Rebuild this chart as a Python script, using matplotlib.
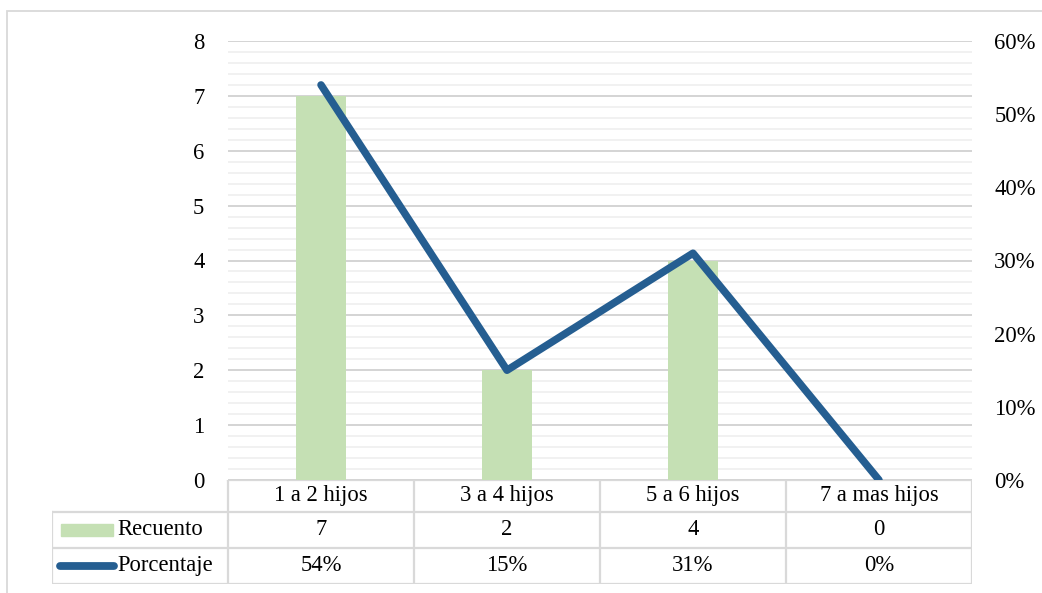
import matplotlib
matplotlib.use("Agg")
import matplotlib.pyplot as plt
from matplotlib.patches import Rectangle
from matplotlib.lines import Line2D
import numpy as np

# Data
categories = ["1 a 2 hijos", "3 a 4 hijos", "5 a 6 hijos", "7 a mas hijos"]
recuento = [7, 2, 4, 0]
porcentaje = [0.54, 0.15, 0.31, 0.00]
row_labels = ["Recuento", "Porcentaje"]
left_ticks = [0, 1, 2, 3, 4, 5, 6, 7, 8]
right_ticks = [0.0, 0.1, 0.2, 0.3, 0.4, 0.5, 0.6]

BAR_COLOR = "#C5E0B4"
LINE_COLOR = "#255E91"
GRID_MAJOR = "#D4D4D4"
GRID_MINOR = "#F0F0F0"
BORDER = "#D9D9D9"
FONT = "Liberation Serif"
FS = 16.3

W, H = 1042, 593
fig = plt.figure(figsize=(W / 100, H / 100), dpi=100)
plt.rcParams["font.family"] = [FONT, "DejaVu Sans"]


def fx(px):
    return px / W


def fy(py):
    return 1 - py / H


# Outer chart frame
fig.add_artist(Rectangle((fx(7), fy(600)), fx(1100) - fx(7), fy(11) - fy(600),
                         transform=fig.transFigure, fill=False,
                         edgecolor=BORDER, linewidth=1.3))

# Plot area
pl, pr, pt, pb = 228, 972, 41, 480
ax = fig.add_axes([fx(pl), fy(pb), fx(pr) - fx(pl), fy(pt) - fy(pb)])
x = np.arange(len(categories))
ax.bar(x, recuento, width=0.27, color=BAR_COLOR, zorder=2)
ax.set_xlim(-0.5, len(categories) - 0.5)
ax.set_ylim(0, 8)
ax.set_yticks(left_ticks)
ax.set_yticks(np.arange(0, 8.01, 0.2), minor=True)
ax.set_yticklabels([str(t) for t in left_ticks], fontsize=FS, fontfamily=FONT)
ax.tick_params(axis="y", which="both", length=0, pad=17)
ax.set_xticks([])
ax.grid(axis="y", which="major", color=GRID_MAJOR, linewidth=1.4, zorder=0)
ax.grid(axis="y", which="minor", color=GRID_MINOR, linewidth=1.3, zorder=0)
ax.set_axisbelow(True)
for s in ax.spines.values():
    s.set_visible(False)

ax2 = ax.twinx()
ax2.plot(x, porcentaje, color=LINE_COLOR, linewidth=5.4,
         solid_capstyle="round", solid_joinstyle="round", zorder=3)
ax2.set_ylim(0, 0.6)
ax2.set_yticks(right_ticks)
ax2.set_yticklabels([f"{int(round(t * 100))}%" for t in right_ticks],
                    fontsize=FS, fontfamily=FONT)
ax2.tick_params(axis="y", length=0, pad=16)
for s in ax2.spines.values():
    s.set_visible(False)

# Data table below the plot
tl, tr, tt, tb = 52, 972, 480, 584
tab = fig.add_axes([fx(tl), fy(tb), fx(tr) - fx(tl), fy(tt) - fy(tb)])
tab.set_xlim(tl, tr)
tab.set_ylim(tb, tt)
tab.axis("off")
col_w = (pr - pl) / len(categories)
row_edges = [480, 512, 548, 584]
lc = dict(color=BORDER, linewidth=1.6, solid_capstyle="projecting")

# horizontal rules
tab.add_line(Line2D([pl, pr], [row_edges[0]] * 2, **lc))
for ry in row_edges[1:]:
    tab.add_line(Line2D([tl, pr], [ry] * 2, **lc))
# vertical rules
tab.add_line(Line2D([tl, tl], [row_edges[1], row_edges[3]], **lc))
for i in range(len(categories) + 1):
    xv = pl + i * col_w
    tab.add_line(Line2D([xv, xv], [row_edges[0], row_edges[3]], **lc))

for i, cat in enumerate(categories):
    cx = pl + (i + 0.5) * col_w
    tab.text(cx, (row_edges[0] + row_edges[1]) / 2, cat, ha="center",
             va="center", fontsize=FS, fontfamily=FONT)
    tab.text(cx, (row_edges[1] + row_edges[2]) / 2, str(recuento[i]),
             ha="center", va="center", fontsize=FS, fontfamily=FONT)
    tab.text(cx, (row_edges[2] + row_edges[3]) / 2,
             f"{int(round(porcentaje[i] * 100))}%", ha="center", va="center",
             fontsize=FS, fontfamily=FONT)

# legend keys in the row headers
tab.add_patch(Rectangle((61, 524), 52, 12, color=BAR_COLOR))
tab.add_line(Line2D([60, 114], [566, 566], color=LINE_COLOR, linewidth=5.6,
                    solid_capstyle="round"))
tab.text(117, (row_edges[1] + row_edges[2]) / 2, row_labels[0], ha="left",
         va="center", fontsize=FS, fontfamily=FONT)
tab.text(117, (row_edges[2] + row_edges[3]) / 2, row_labels[1], ha="left",
         va="center", fontsize=FS, fontfamily=FONT)

fig.savefig("out.png", dpi=100, facecolor="white")
